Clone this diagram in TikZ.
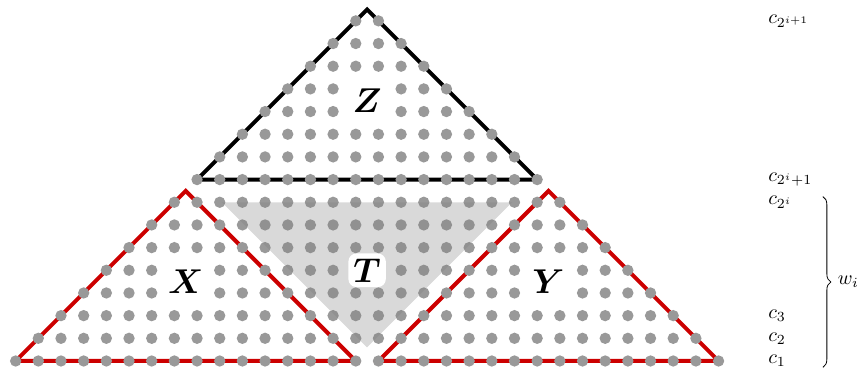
\documentclass[tikz,border=0pt]{standalone}
\usepackage{amsmath}
\usepackage{amssymb}
\usepackage{bm}
\usetikzlibrary{decorations.pathreplacing, positioning, calc}
\definecolor{dotgray}{gray}{0.6}
\definecolor{edgered}{RGB}{204,0,0}
\tikzset{
  gdot/.style={fill=dotgray},
  redtri/.style={draw=edgered, line width=2pt},
  blacktri/.style={draw=black, line width=2pt},
  tshade/.style={fill=gray, opacity=0.3},
  trilabel/.style={fill=white, inner sep=3pt, font=\LARGE},
  levellabel/.style={anchor=west, inner sep=2pt}
}

\begin{document}
\begin{tikzpicture}[x=0.4cm, y=0.4cm]
    \useasboundingbox (-0.69,-0.44) rectangle (37.37,15.92);

    % Triangulos Z, X, Y
    \draw[blacktri] (8,8) -- (15.5,15.5) -- (23,8) -- cycle;
    \draw[redtri] (0,0) -- (7.5,7.5) -- (15,0) -- cycle;
    \draw[redtri] (16,0) -- (23.5,7.5) -- (31,0) -- cycle;

    % Puntos de la malla
    \foreach \r in {0,...,15} {
        \pgfmathtruncatemacro{\last}{31-\r}
        \foreach \k in {\r,...,\last}
            \fill[gdot] (\k,\r) circle (0.1cm);
    }

    % Region T
    \fill[tshade] (9.1,7) -- (21.9,7) -- (15.5,0.6) -- cycle;

    % Etiquetas de los triangulos
    \node[trilabel] (Z) at (15.5,11.5) {$\bm{Z}$};
    \node[trilabel] (X) at (7.5,3.5) {$\bm{X}$};
    \node[trilabel] (Y) at (23.5,3.5) {$\bm{Y}$};
    \node[trilabel, inner sep=2.5pt, rounded corners=4pt] (T) at (15.5,4) {$\bm{T}$};

    % Niveles a la derecha
    \foreach \r/\txt/\nm in {15/c_{2^{i+1}}/ctop, 8/c_{2^i+1}/cmid, 7/c_{2^i}/chigh,
                             2/c_3/cthree, 1/c_2/ctwo, 0/c_1/cone} {
        \node[levellabel] (\nm) at (33,\r) {$\txt$};
    }

    % Llave w_i
    \coordinate (bracetop) at (35.6,7.25);
    \coordinate (bracebot) at (35.6,-0.28);
    \draw[decorate, decoration={brace, amplitude=4pt}] (bracetop) -- (bracebot)
        node[midway, right=4pt] (wi) {$w_i$};

\end{tikzpicture}
\end{document}
